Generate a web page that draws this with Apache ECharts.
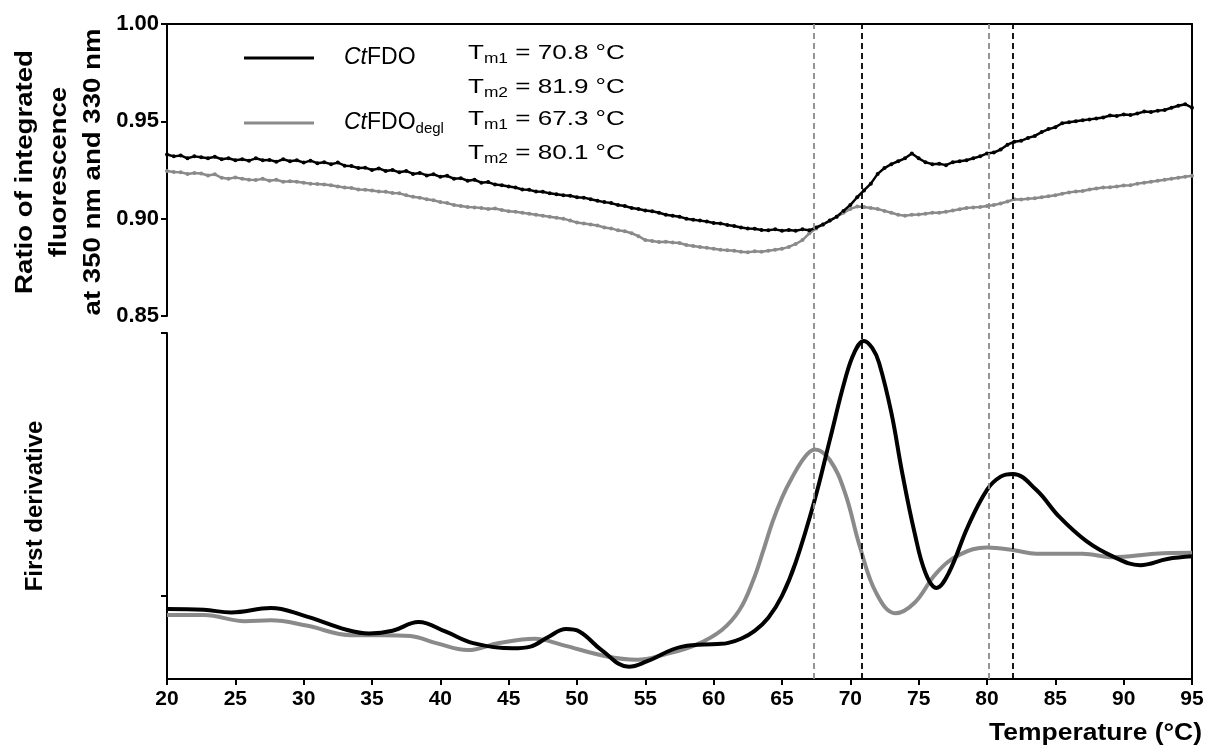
<!DOCTYPE html>
<html>
<head>
<meta charset="utf-8">
<script src="https://cdn.jsdelivr.net/npm/echarts@6/dist/echarts.min.js"></script>
<style>
  html, body { margin: 0; padding: 0; background: #fff; }
  #main { width: 1207px; height: 747px; }
</style>
</head>
<body>
<div id="main"></div>
<script>
// ratio 350/330 nm, sampled every 0.5 degC from 20 to 95
const ratioStart = 20;
const ratioStep = 0.5;
const ratioFDO = [
  0.933, 0.932, 0.9325, 0.931, 0.932, 0.9315, 0.931, 0.9318, 0.9305, 0.931,
  0.930, 0.9305, 0.9298, 0.931, 0.930, 0.9302, 0.9292, 0.9305, 0.9295, 0.930,
  0.9288, 0.9298, 0.9285, 0.929, 0.928, 0.9288, 0.9272, 0.927, 0.926, 0.9262,
  0.925, 0.9258, 0.9245, 0.925, 0.9238, 0.9245, 0.923, 0.9235, 0.9222, 0.9228,
  0.9215, 0.922, 0.9205, 0.9208, 0.9195, 0.920, 0.9185, 0.9188, 0.9175, 0.9172,
  0.9165, 0.916, 0.915, 0.9148, 0.914, 0.9138, 0.913, 0.9125, 0.912, 0.9118,
  0.911, 0.9108, 0.910, 0.9092, 0.9085, 0.908, 0.907, 0.9065, 0.9055, 0.905,
  0.9042, 0.9038, 0.903, 0.902, 0.9015, 0.901, 0.900, 0.8995, 0.899, 0.8985,
  0.8978, 0.8975, 0.8968, 0.8962, 0.8955, 0.895, 0.8948, 0.8942, 0.894, 0.8945,
  0.8938, 0.8942, 0.8938, 0.8945, 0.894, 0.8955, 0.897, 0.899, 0.901, 0.904,
  0.907, 0.911, 0.9145, 0.918, 0.923, 0.926, 0.928, 0.9295, 0.931, 0.9335,
  0.931, 0.929, 0.928, 0.9282, 0.9275, 0.929, 0.9295, 0.930, 0.931, 0.932,
  0.9335, 0.934, 0.9355, 0.938, 0.9395, 0.940, 0.9415, 0.9425, 0.9445, 0.946,
  0.947, 0.949, 0.9495, 0.950, 0.9505, 0.951, 0.9515, 0.952, 0.953, 0.9528,
  0.9535, 0.9532, 0.954, 0.955, 0.9548, 0.9555, 0.9558, 0.957, 0.958, 0.9588,
  0.957
];
const ratioDegl = [
  0.9245, 0.924, 0.9238, 0.923, 0.9235, 0.9232, 0.9222, 0.9228, 0.921, 0.9205,
  0.9212, 0.9205, 0.920, 0.9198, 0.9205, 0.9195, 0.920, 0.919, 0.9192, 0.919,
  0.9185, 0.918, 0.9178, 0.9175, 0.9172, 0.9165, 0.916, 0.9158, 0.915, 0.9148,
  0.9145, 0.914, 0.9138, 0.9132, 0.913, 0.912, 0.9112, 0.9108, 0.910, 0.9095,
  0.9085, 0.908, 0.907, 0.9065, 0.906, 0.9058, 0.9055, 0.905, 0.9052, 0.9045,
  0.9038, 0.9035, 0.903, 0.9025, 0.902, 0.9015, 0.901, 0.9005, 0.900, 0.899,
  0.898, 0.8975, 0.897, 0.8965, 0.8955, 0.895, 0.894, 0.8935, 0.8925, 0.891,
  0.889, 0.8885, 0.888, 0.8882, 0.8878, 0.8875, 0.8865, 0.886, 0.8855, 0.885,
  0.8845, 0.884, 0.8838, 0.8835, 0.883, 0.8828, 0.8832, 0.883, 0.8835, 0.884,
  0.8845, 0.8855, 0.887, 0.889, 0.8925, 0.895, 0.897, 0.899, 0.901, 0.903,
  0.905, 0.9062, 0.906, 0.9055, 0.905, 0.904, 0.903, 0.902, 0.9015, 0.902,
  0.9022, 0.9025, 0.903, 0.903, 0.9035, 0.9042, 0.9048, 0.9055, 0.9058, 0.906,
  0.9065, 0.907, 0.9078, 0.9088, 0.910, 0.9098, 0.9102, 0.9105, 0.911, 0.9115,
  0.912, 0.9128, 0.9135, 0.914, 0.9142, 0.915, 0.9155, 0.916, 0.9162, 0.9165,
  0.917, 0.9172, 0.918, 0.9185, 0.919, 0.9195, 0.920, 0.9205, 0.921, 0.9215,
  0.922
];

// first derivative (arbitrary units), read at points along the curves
const derivTempFDO = [20, 22.7, 24.7, 27.6, 29.9, 33.2, 34.8, 36.5, 38.4, 40.4, 42.4, 45.3, 46.6, 47.9, 49.2, 50.2, 51.8, 53.8, 55.1, 57.7, 60.3, 61.0, 62.0, 63.0, 64.0, 65.0, 66.0, 67.4, 68.5, 69.6, 70.3, 71.0, 71.6, 72.1, 73.0, 73.8, 74.7, 75.5, 76.3, 77.2, 78.6, 80.0, 81.0, 81.9, 83.6, 85.3, 87.3, 89.2, 91.2, 93.2, 95];
const derivFDO = [-0.15, -0.16, -0.19, -0.14, -0.22, -0.39, -0.43, -0.40, -0.30, -0.41, -0.54, -0.60, -0.58, -0.47, -0.38, -0.41, -0.62, -0.81, -0.75, -0.58, -0.55, -0.54, -0.49, -0.40, -0.25, 0.0, 0.38, 1.10, 1.78, 2.46, 2.78, 2.91, 2.83, 2.66, 2.09, 1.40, 0.72, 0.26, 0.09, 0.26, 0.79, 1.21, 1.36, 1.39, 1.21, 0.90, 0.62, 0.45, 0.35, 0.42, 0.45];
const derivTempDegl = [20, 22.7, 25.7, 27.6, 30.2, 33.5, 35.8, 37.8, 39.7, 42.0, 44.3, 46.9, 48.9, 52.1, 54.4, 56.4, 58.7, 60.6, 61.9, 62.9, 63.6, 64.3, 65.0, 65.7, 66.7, 67.4, 68.5, 69.6, 70.7, 71.9, 73.3, 74.7, 76.3, 78.0, 80.0, 82.0, 83.6, 87.0, 89.2, 92.3, 95];
const derivDegl = [-0.22, -0.22, -0.29, -0.28, -0.34, -0.45, -0.45, -0.46, -0.54, -0.62, -0.54, -0.49, -0.56, -0.69, -0.73, -0.67, -0.56, -0.39, -0.16, 0.18, 0.50, 0.84, 1.12, 1.34, 1.59, 1.67, 1.55, 1.18, 0.56, 0.03, -0.20, -0.08, 0.26, 0.47, 0.55, 0.52, 0.48, 0.48, 0.44, 0.48, 0.49];

const seriesNames = ['CtFDO', 'CtFDOdegl'];
const seriesColors = ['#000000', '#8a8a8a'];
const tm1 = [70.8, 67.3];
const tm2 = [81.9, 80.1];
const xTicks = [20, 95, 5];
const ratioTicks = [0.85, 1.00, 0.05];
const derivTicks = [0, 3];
const ratioTitle = ['Ratio of integrated', 'fluorescence', 'at 350 nm and 330 nm'];

const FONT = '"Liberation Sans", Arial, sans-serif';

function pairs(xs, ys) { return ys.map((v, i) => [xs[i], v]); }
const ratioTemps = ratioFDO.map((_, i) => ratioStart + i * ratioStep);

var myChart = echarts.init(document.getElementById('main'));

const axisLineStyle = { color: '#000', width: 2 };
const tickStyle = { color: '#000', width: 2 };

// dashed Tm markers over the whole plot
const tmLines = [];
[0, 1].forEach(k => {
  [tm1[k], tm2[k]].forEach(t => {
    tmLines.push({ xAxis: t, lineStyle: { color: k === 0 ? '#000' : '#8a8a8a' } });
  });
});

const tmLabels = [];
[0, 1].forEach(k => {
  tmLabels.push('T{s|m1} = ' + tm1[k].toFixed(1) + ' °C');
  tmLabels.push('T{s|m2} = ' + tm2[k].toFixed(1) + ' °C');
});
const tmY = [53, 87, 119, 153];

const graphics = tmLabels.map((txt, i) => ({
  type: 'text', x: 468, y: tmY[i], scaleX: 1.24,
  style: {
    text: txt, fill: '#000', font: '21px ' + FONT, verticalAlign: 'middle',
    rich: { s: { fontFamily: FONT, fontSize: 14, fill: '#000', padding: [12, 0, 0, 0] } }
  }
}));
// rotated multi-line title of the upper panel
[25, 59, 93].forEach((cx, i) => {
  graphics.push({
    type: 'text', x: cx, y: 172, rotation: Math.PI / 2, scaleX: 1.15,
    style: { text: ratioTitle[i], fill: '#000', font: 'bold 24px ' + FONT, align: 'center', verticalAlign: 'middle' }
  });
});
graphics.push({
  type: 'text', x: 1202, y: 734, scaleX: 1.15,
  style: { text: 'Temperature (°C)', fill: '#000', font: 'bold 23px ' + FONT, align: 'right', verticalAlign: 'middle' }
});

let option = {
  animation: false,
  backgroundColor: '#fff',
  grid: [
    { left: 167, top: 24, width: 1025, height: 292, outerBoundsMode: 'none' },
    { left: 167, top: 333, width: 1025, height: 346, outerBoundsMode: 'none' },
    { left: 167, top: 24, width: 1025, height: 655, outerBoundsMode: 'none' }
  ],
  xAxis: [
    {
      gridIndex: 0, type: 'value', position: 'top', min: xTicks[0], max: xTicks[1], interval: xTicks[2],
      axisLine: { show: true, lineStyle: axisLineStyle }, axisTick: { show: false },
      axisLabel: { show: false }, splitLine: { show: false }
    },
    {
      gridIndex: 1, type: 'value', min: xTicks[0], max: xTicks[1], interval: xTicks[2],
      axisLine: { show: true, onZero: false, lineStyle: axisLineStyle },
      axisTick: { show: true, length: 6, lineStyle: tickStyle },
      axisLabel: { color: '#000', fontFamily: FONT, fontWeight: 'bold', fontSize: 21, margin: 10 },
      splitLine: { show: false }
    },
    {
      gridIndex: 2, type: 'value', min: xTicks[0], max: xTicks[1], show: false
    }
  ],
  yAxis: [
    {
      gridIndex: 0, type: 'value', min: ratioTicks[0], max: ratioTicks[1], interval: ratioTicks[2],
      axisLine: { show: true, onZero: false, lineStyle: axisLineStyle },
      axisTick: { show: true, length: 6, lineStyle: tickStyle },
      axisLabel: { color: '#000', fontFamily: FONT, fontWeight: 'bold', fontSize: 22, margin: 8, formatter: v => v.toFixed(2) },
      splitLine: { show: false }
    },
    {
      gridIndex: 1, type: 'value', min: -0.95, max: 3,
      axisLine: { show: true, onZero: false, lineStyle: axisLineStyle },
      axisTick: { show: true, length: 6, lineStyle: tickStyle, customValues: derivTicks },
      axisLabel: { show: false, customValues: derivTicks },
      splitLine: { show: false },
      name: 'First derivative', nameLocation: 'middle', nameRotate: 90, nameGap: 120,
      nameTextStyle: { color: '#000', fontFamily: FONT, fontWeight: 'bold', fontSize: 24 }
    },
    {
      gridIndex: 2, type: 'value', min: 0, max: 1, position: 'right',
      axisLine: { show: true, onZero: false, lineStyle: axisLineStyle },
      axisTick: { show: false }, axisLabel: { show: false }, splitLine: { show: false }
    }
  ],
  legend: {
    left: 239, top: 41, orient: 'vertical', itemGap: 41,
    icon: 'rect', itemWidth: 70, itemHeight: 3,
    data: seriesNames,
    formatter: name => name === 'CtFDO' ? '{i|Ct}FDO' : '{i|Ct}FDO{s|degl}',
    textStyle: {
      color: '#000', fontFamily: FONT, fontSize: 23, lineHeight: 24, padding: [0, 0, 0, 25],
      rich: {
        i: { fontFamily: FONT, fontSize: 23, fontStyle: 'italic', color: '#000' },
        s: { fontFamily: FONT, fontSize: 15, color: '#000', padding: [12, 0, 0, 0] }
      }
    }
  },
  graphic: graphics,
  series: [
    {
      name: seriesNames[1], type: 'line', xAxisIndex: 0, yAxisIndex: 0,
      data: pairs(ratioTemps, ratioDegl), showSymbol: true, symbol: 'circle', symbolSize: 4,
      lineStyle: { color: seriesColors[1], width: 2.5 }, itemStyle: { color: seriesColors[1] }
    },
    {
      name: seriesNames[0], type: 'line', xAxisIndex: 0, yAxisIndex: 0,
      data: pairs(ratioTemps, ratioFDO), showSymbol: true, symbol: 'circle', symbolSize: 4,
      lineStyle: { color: seriesColors[0], width: 2.5 }, itemStyle: { color: seriesColors[0] }
    },
    {
      name: seriesNames[1], type: 'line', xAxisIndex: 1, yAxisIndex: 1,
      data: pairs(derivTempDegl, derivDegl), showSymbol: false, smooth: 0.4,
      lineStyle: { color: seriesColors[1], width: 4 }, itemStyle: { color: seriesColors[1] }
    },
    {
      name: seriesNames[0], type: 'line', xAxisIndex: 1, yAxisIndex: 1,
      data: pairs(derivTempFDO, derivFDO), showSymbol: false, smooth: 0.4,
      lineStyle: { color: seriesColors[0], width: 4 }, itemStyle: { color: seriesColors[0] }
    },
    {
      name: 'Tm', type: 'line', xAxisIndex: 2, yAxisIndex: 2, data: [],
      markLine: {
        silent: true, symbol: 'none', label: { show: false },
        lineStyle: { type: [6, 4], width: 1.8 },
        data: tmLines
      }
    }
  ]
};

myChart.setOption(option);
</script>
</body>
</html>
